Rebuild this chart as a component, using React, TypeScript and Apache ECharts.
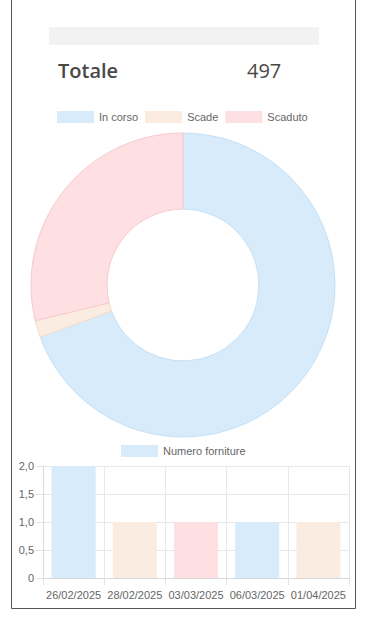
import React, { useEffect, useRef } from "react";
import * as echarts from "echarts";

const statusNames = ["In corso", "Scade", "Scaduto"];
const statusValues = [345, 9, 143];
const statusColors = ["#d7ebfa", "#fbece2", "#fee0e3"];
const statusBorders = ["#c4e0f6", "#f5dccb", "#f8c8cf"];

const totalLabel = "Totale";
const totalValue = 497;

const barSeriesName = "Numero forniture";
const dates = ["26/02/2025", "28/02/2025", "03/03/2025", "06/03/2025", "01/04/2025"];
const barValues = [2, 1, 1, 1, 1];
const barColors = ["#d7ebfa", "#fbece2", "#fee0e3", "#d7ebfa", "#fbece2"];

const FONT = "'Liberation Sans', Arial, sans-serif";
const FS = 11;

export default function App() {
  const ref = useRef<HTMLDivElement>(null);
  useEffect(() => {
    if (!ref.current) return;
    const chart = echarts.init(ref.current, undefined, { renderer: "svg" });
    chart.setOption({
      animation: false,
      backgroundColor: "#ffffff",
      textStyle: { fontFamily: FONT },
      legend: [
        {
          data: statusNames,
          top: 106,
          left: 52,
          itemWidth: 37,
          itemHeight: 12,
          itemGap: 7,
          icon: "rect",
          itemStyle: { borderWidth: 0 },
          textStyle: { color: "#666", fontSize: FS, fontFamily: FONT },
        },
        {
          data: [barSeriesName],
          top: 440,
          left: 116,
          itemWidth: 37,
          itemHeight: 12,
          icon: "rect",
          itemStyle: { borderWidth: 0 },
          textStyle: { color: "#666", fontSize: FS, fontFamily: FONT },
        },
      ],
      grid: { left: 43, right: 23, top: 466, bottom: 58, containLabel: false },
      xAxis: {
        type: "category",
        data: dates,
        boundaryGap: true,
        axisLine: { show: true, lineStyle: { color: "#d9d9d9" } },
        axisTick: { show: true, length: 7, lineStyle: { color: "#e3e3e3" } },
        axisLabel: { color: "#666", fontSize: FS, margin: 11, fontFamily: FONT, interval: 0 },
        splitLine: { show: true, lineStyle: { color: "#e8e8e8" } },
      },
      yAxis: {
        type: "value",
        min: 0,
        max: 2,
        interval: 0.5,
        axisLine: { show: true, lineStyle: { color: "#d9d9d9" } },
        axisTick: { show: true, length: 7, lineStyle: { color: "#e3e3e3" } },
        axisLabel: {
          color: "#666",
          fontSize: FS,
          margin: 9,
          fontFamily: FONT,
          formatter: (v: number) => (v === 0 ? "0" : v.toFixed(1).replace(".", ",")),
        },
        splitLine: { show: true, lineStyle: { color: "#e8e8e8" } },
      },
      series: [
        {
          type: "pie",
          center: [183, 285],
          radius: [76, 152],
          startAngle: 90,
          clockwise: true,
          label: { show: false },
          labelLine: { show: false },
          emphasis: { disabled: true },
          data: statusNames.map((n, i) => ({
            name: n,
            value: statusValues[i],
            itemStyle: { color: statusColors[i], borderColor: statusBorders[i], borderWidth: 1 },
          })),
        },
        {
          type: "bar",
          name: barSeriesName,
          barWidth: "72%",
          itemStyle: { color: barColors[0] },
          data: barValues.map((v, i) => ({ value: v, itemStyle: { color: barColors[i] } })),
        },
      ],
      graphic: [
        { type: "line", shape: { x1: 11.5, y1: 0, x2: 11.5, y2: 608.5 }, style: { stroke: "#555", lineWidth: 1 } },
        { type: "line", shape: { x1: 355.5, y1: 0, x2: 355.5, y2: 608.5 }, style: { stroke: "#555", lineWidth: 1 } },
        { type: "line", shape: { x1: 11.5, y1: 608.5, x2: 355.5, y2: 608.5 }, style: { stroke: "#555", lineWidth: 1 } },
        { type: "rect", shape: { x: 49, y: 27, width: 270, height: 18 }, style: { fill: "#f2f2f2" } },
        {
          type: "text",
          x: 58,
          y: 70,
          style: {
            text: totalLabel,
            fill: "#484848",
            font: "600 20px 'Open Sans', sans-serif",
            textVerticalAlign: "middle",
          },
        },
        {
          type: "text",
          x: 247,
          y: 70,
          style: {
            text: String(totalValue),
            fill: "#484848",
            font: "20px 'Open Sans', sans-serif",
            textVerticalAlign: "middle",
          },
        },
      ],
    });
    return () => chart.dispose();
  }, []);
  return (
    <div
      ref={ref}
      style={{ position: "fixed", left: 0, top: 0, width: 372, height: 636, background: "#fff" }}
    />
  );
}
